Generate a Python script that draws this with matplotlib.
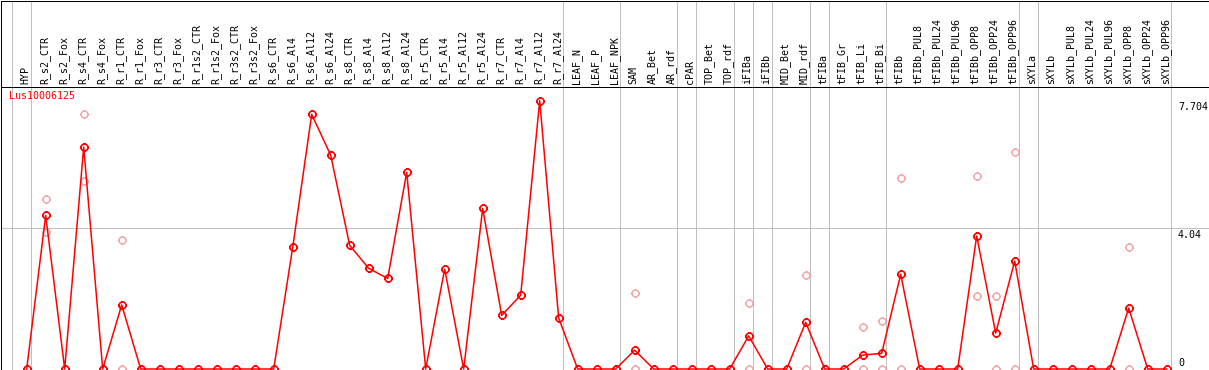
import matplotlib
matplotlib.use('Agg')
import matplotlib.pyplot as plt
from matplotlib.path import Path

categories = ['HYP', 'R_s2_CTR', 'R_s2_Fox', 'R_s4_CTR', 'R_s4_Fox', 'R_r1_CTR', 'R_r1_Fox',
              'R_r3_CTR', 'R_r3_Fox', 'R_r1s2_CTR', 'R_r1s2_Fox', 'R_r3s2_CTR', 'R_r3s2_Fox',
              'R_s6_CTR', 'R_s6_Al4', 'R_s6_Al12', 'R_s6_Al24', 'R_s8_CTR', 'R_s8_Al4',
              'R_s8_Al12', 'R_s8_Al24', 'R_r5_CTR', 'R_r5_Al4', 'R_r5_Al12', 'R_r5_Al24',
              'R_r7_CTR', 'R_r7_Al4', 'R_r7_Al12', 'R_r7_Al24', 'LEAF_N', 'LEAF_P', 'LEAF_NPK',
              'SAM', 'AR_Bet', 'AR_rdf', 'cPAR', 'TOP_Bet', 'TOP_rdf', 'iFIBa', 'iFIBb',
              'MID_Bet', 'MID_rdf', 'tFIBa', 'tFIB_Gr', 'tFIB_Li', 'tFIB_Bi', 'tFIBb',
              'tFIBb_PUL8', 'tFIBb_PUL24', 'tFIBb_PUL96', 'tFIBb_OPP8', 'tFIBb_OPP24',
              'tFIBb_OPP96', 'sXYLa', 'sXYLb', 'sXYLb_PUL8', 'sXYLb_PUL24', 'sXYLb_PUL96',
              'sXYLb_OPP8', 'sXYLb_OPP24', 'sXYLb_OPP96']

mean_values = [0, 4.41, 0, 6.37, 0, 1.84, 0, 0, 0, 0, 0, 0, 0, 0,
               3.49, 7.31, 6.14, 3.55, 2.89, 2.60, 5.65, 0, 2.87, 0, 4.61,
               1.54, 2.12, 7.704, 1.46, 0, 0, 0, 0.54, 0, 0, 0, 0, 0, 0.95, 0,
               0, 1.34, 0, 0, 0.40, 0.45, 2.72, 0, 0, 0, 3.82, 1.03, 3.10,
               0, 0, 0, 0, 0, 1.75, 0, 0]

rep_categories = ['R_s2_CTR', 'R_s2_CTR', 'R_s4_CTR', 'R_s4_CTR', 'R_r1_CTR', 'R_r1_CTR',
                  'SAM', 'SAM', 'iFIBa', 'iFIBa', 'MID_rdf', 'MID_rdf', 'tFIB_Li', 'tFIB_Li',
                  'tFIB_Bi', 'tFIB_Bi', 'tFIBb', 'tFIBb', 'tFIBb_OPP8', 'tFIBb_OPP8',
                  'tFIBb_OPP24', 'tFIBb_OPP24', 'tFIBb_OPP96', 'tFIBb_OPP96',
                  'sXYLb_OPP8', 'sXYLb_OPP8']
rep_values = [4.88, 3.92, 7.31, 5.39, 3.69, 0, 2.17, 0, 1.89, 0, 2.69, 0, 1.21, 0,
              1.37, 0, 5.47, 0, 5.53, 2.09, 2.09, 0, 6.22, 0, 3.49, 0]

group_sizes = [1, 28, 3, 3, 1, 2, 1, 1, 2, 1, 3, 7, 1, 7]
ytick_values = [0, 4.04, 7.704]
ytick_labels = ['0', '4.04', '7.704']
gene_id = 'Lus10006125'

W, H = 1209, 370
fig = plt.figure(figsize=(W / 100, H / 100), dpi=100)


def fx(px):
    return px / W


def fy(py):
    return 1 - py / H


X0, DX = 26.7, 19.0      # pixel x of first category, pixel step
Y0, SY = 369.0, 34.83    # pixel y of value 0, pixels per unit
LW = 0.72
GRID = '#c0c0c0'
FONT = 'DejaVu Sans Mono'
FS = 7.2

xlim = ((0.5 - X0) / DX, (1208.5 - X0) / DX)

ax = fig.add_axes([fx(0.5), fy(369.5), fx(1208.5) - fx(0.5), fy(86.5) - fy(369.5)])
ax.set_xlim(*xlim)
ax.set_ylim((Y0 - 369.5) / SY, (Y0 - 86.5) / SY)

axh = fig.add_axes([fx(0.5), fy(86.5), fx(1208.5) - fx(0.5), fy(0.5) - fy(86.5)])
axh.set_xlim(*xlim)
axh.set_ylim(86.5, 0.5)

for a in (ax, axh):
    a.set_xticks([])
    a.set_yticks([])
    a.patch.set_alpha(0)
    for s in a.spines.values():
        s.set_linewidth(LW)
        s.set_color('black')

# group separators
seps = [-1]
acc = -1
for g in group_sizes:
    acc += g
    seps.append(acc)
for s in seps:
    for a in (ax, axh):
        a.axvline(s + 0.21, color=GRID, lw=LW, zorder=0)

# horizontal grid line
ax.axhline(4.04, color=GRID, lw=LW, zorder=0)

# marker: open circle with small ticks
circ = Path.circle((0, 0), 1.0)
ticks = Path([(1, 0), (1.3, 0), (-1, 0), (-1.3, 0), (0, 1), (0, 1.3), (0, -1), (0, -1.3)],
             [Path.MOVETO, Path.LINETO] * 4)
mk = Path.make_compound_path(circ, ticks)

xs = list(range(len(categories)))
rx = [categories.index(c) for c in rep_categories]
ax.plot(rx, rep_values, linestyle='none', marker=mk, markersize=6.5,
        markerfacecolor='none', markeredgecolor='#f2a0a4', markeredgewidth=1.0,
        zorder=2, clip_on=False)
ax.plot(xs, mean_values, color='#ff0000', lw=1.1, marker=mk, markersize=6.5,
        markerfacecolor='none', markeredgecolor='#ff0000', markeredgewidth=1.2,
        zorder=3, clip_on=False)

# category labels in header
for i, c in enumerate(categories):
    axh.text(i - 1.4 / DX, 83.5, c, rotation=90, ha='center', va='bottom',
             family=FONT, fontsize=FS, color='black')

# gene id
fig.text(fx(9), fy(91), gene_id, ha='left', va='top', family=FONT, fontsize=FS, color='#ff0000')

# y value labels
for v, lab in zip(ytick_values, ytick_labels):
    py = Y0 - v * SY
    if v == 0:
        fig.text(fx(1178), fy(365.5), lab, ha='left', va='baseline', family=FONT, fontsize=FS)
    else:
        fig.text(fx(1178), fy(py + 1.5), lab, ha='left', va='top', family=FONT, fontsize=FS)

fig.savefig('out.png', dpi=100)
